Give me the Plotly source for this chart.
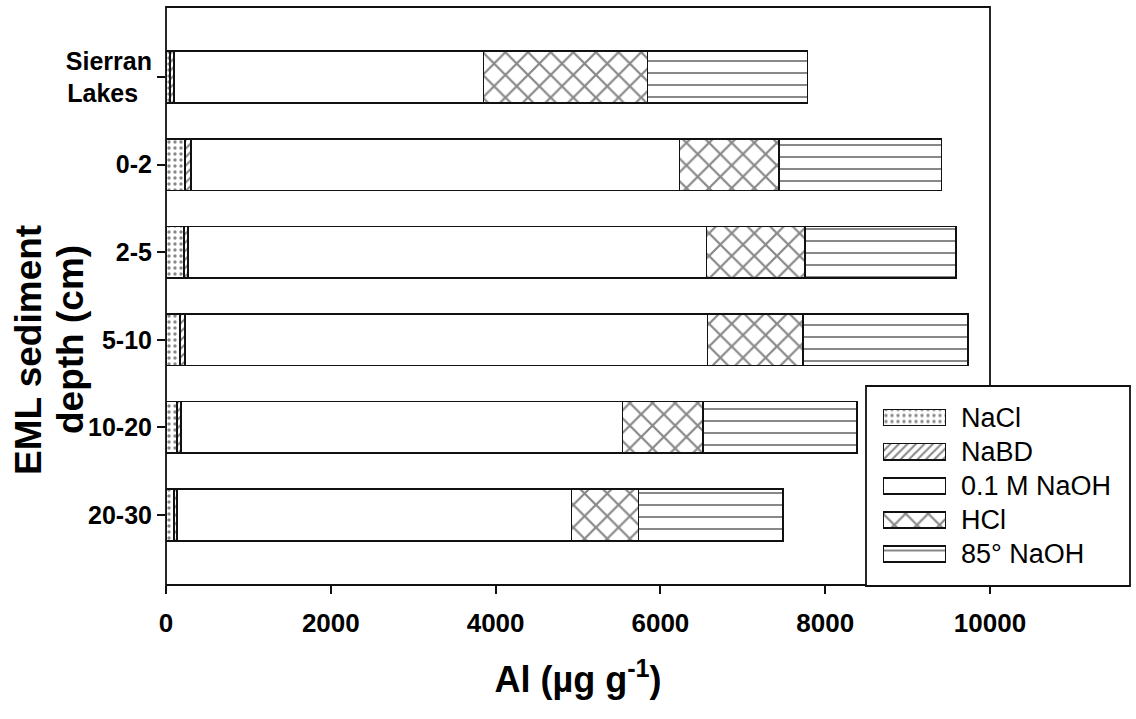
import plotly.graph_objects as go

# Sample groups (top to bottom) and extraction fractions
categories = ["Sierran Lakes", "0-2", "2-5", "5-10", "10-20", "20-30"]
fractions = ["NaCl", "NaBD", "0.1 M NaOH", "HCl", "85° NaOH"]

# Al in each fraction (µg g-1)
nacl = [45, 230, 218, 170, 130, 101]
nabd = [50, 70, 53, 57, 48, 36]
naoh_01 = [3759, 5932, 6288, 6344, 5362, 4785]
hcl = [1990, 1209, 1193, 1161, 978, 812]
naoh_85 = [1941, 1969, 1836, 2002, 1865, 1755]

x_ticks = [0, 2000, 4000, 6000, 8000, 10000]

series = [nacl, nabd, naoh_01, hcl, naoh_85]
patterns = [
    dict(shape=".", size=6, solidity=0.25),
    dict(shape="/", size=6, solidity=0.35),
    dict(shape="", size=8, solidity=0.2),
    dict(shape="x", size=16, solidity=0.26),
    dict(shape="-", size=12, solidity=0.17),
]

INK = "#111111"
FONT = "Liberation Sans, Arial, sans-serif"

# plot area in pixels
L, R, T, B = 166, 990, 7, 585
W, H = R - L, B - T


def px_x(p):
    return (p - L) / W


def px_y(p):
    return (B - p) / H


fig = go.Figure()
for name, vals, pat in zip(fractions, series, patterns):
    fig.add_trace(go.Bar(
        y=categories,
        x=vals,
        name=name,
        orientation="h",
        width=0.59,
        showlegend=False,
        marker=dict(
            color="white",
            line=dict(color=INK, width=1.7),
            pattern=dict(fgcolor=INK, bgcolor="white", fillmode="overlay", **pat),
        ),
    ))

# legend keys: one patterned swatch per fraction in a small inset axis
for name, pat in zip(fractions, patterns):
    fig.add_trace(go.Bar(
        y=[name], x=[1], orientation="h", width=0.47,
        xaxis="x2", yaxis="y2", showlegend=False, hoverinfo="skip",
        marker=dict(
            color="white",
            line=dict(color=INK, width=1.7),
            pattern=dict(fgcolor=INK, bgcolor="white", fillmode="overlay", **pat),
        ),
    ))

# "Sierran Lakes" padded so its two lines start together
tick_text = ["Sierran<br>Lakes\u00a0\u00a0" if c == "Sierran Lakes" else c for c in categories]

fig.update_layout(
    barmode="stack",
    width=1136,
    height=719,
    margin=dict(l=L, r=1136 - R, t=T, b=719 - B),
    paper_bgcolor="white",
    plot_bgcolor="rgba(0,0,0,0)",
    font=dict(family=FONT, color="black"),
    showlegend=False,
    xaxis=dict(
        range=[0, 10000],
        tickvals=x_ticks,
        ticktext=[str(v) for v in x_ticks],
        ticks="outside", ticklen=8, tickwidth=1.5, tickcolor=INK,
        showline=False, showgrid=False, zeroline=False,
        ticklabelstandoff=7,
        tickfont=dict(family=FONT, size=26, weight="bold", color="black"),
        title=dict(text="Al (µg g<sup>-1</sup>)", standoff=29,
                   font=dict(family=FONT, size=36, weight="bold", color="black")),
    ),
    yaxis=dict(
        type="category",
        categoryorder="array",
        categoryarray=categories[::-1],
        tickvals=categories,
        ticktext=tick_text,
        range=[-0.8, 5.8],
        ticks="outside", ticklen=8, tickwidth=1.5, tickcolor=INK,
        showline=False, showgrid=False, zeroline=False,
        tickfont=dict(family=FONT, size=25, weight="bold", color="black"),
        ticklabelstandoff=0,
    ),
    xaxis2=dict(
        domain=[px_x(883), px_x(946)], anchor="y2", range=[0, 1],
        visible=False, fixedrange=True,
    ),
    yaxis2=dict(
        domain=[px_y(571), px_y(400.5)], anchor="x2",
        type="category", categoryorder="array", categoryarray=fractions[::-1],
        range=[-0.5, 4.5], visible=False, fixedrange=True,
    ),
    shapes=[
        # plot frame
        dict(type="rect", xref="paper", yref="paper", x0=0, x1=1, y0=0, y1=1,
             line=dict(color=INK, width=1.8), layer="below"),
        # legend box
        dict(type="rect", xref="paper", yref="paper",
             x0=px_x(866), x1=px_x(1130), y0=px_y(586), y1=px_y(386),
             line=dict(color=INK, width=1.8), fillcolor="white", layer="below"),
    ],
)

# legend labels
for name in fractions:
    fig.add_annotation(
        text=name, xref="paper", yref="y2", x=px_x(959), y=name,
        xanchor="left", yanchor="middle", showarrow=False,
        font=dict(family=FONT, size=27, color="black"),
    )

# y axis title, two lines
fig.add_annotation(
    text="EML sediment", xref="paper", yref="paper",
    x=px_x(28), y=px_y(350), xanchor="center", yanchor="middle",
    textangle=-90, showarrow=False,
    font=dict(family=FONT, size=37, weight="bold", color="black"),
)
fig.add_annotation(
    text="depth (cm)", xref="paper", yref="paper",
    x=px_x(70), y=px_y(340), xanchor="center", yanchor="middle",
    textangle=-90, showarrow=False,
    font=dict(family=FONT, size=37, weight="bold", color="black"),
)

fig.write_html("out.html")
